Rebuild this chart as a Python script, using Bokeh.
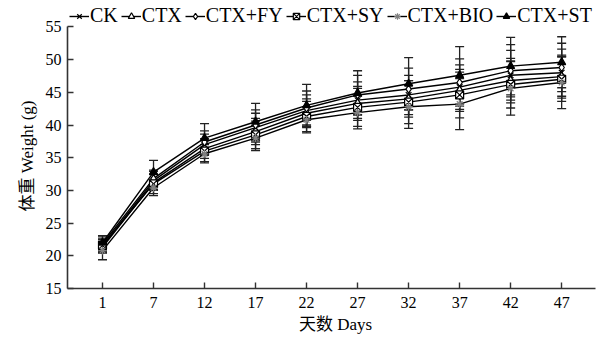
import numpy as np
from bokeh.plotting import figure
from bokeh.models import (ColumnDataSource, Whisker, TeeHead, Legend, LegendItem,
                          Range1d, FixedTicker, Title)
from bokeh.embed import file_html
from bokeh.resources import INLINE

days = ["1", "7", "12", "17", "22", "27", "32", "37", "42", "47"]
series_names = ["CK", "CTX", "CTX+FY", "CTX+SY", "CTX+BIO", "CTX+ST"]

ck_mean = [21.5, 31.5, 37.0, 39.6, 42.2, 43.8, 44.6, 45.8, 47.6, 48.0]
ctx_mean = [21.3, 31.2, 36.4, 39.0, 41.8, 43.3, 44.0, 45.3, 46.8, 47.4]
fy_mean = [21.8, 31.8, 37.4, 40.0, 42.6, 44.6, 45.5, 46.5, 48.3, 48.8]
sy_mean = [21.6, 31.0, 36.0, 38.5, 41.3, 42.7, 43.5, 44.6, 46.2, 47.0]
bio_mean = [20.8, 30.4, 35.6, 38.0, 40.8, 41.9, 42.8, 43.2, 45.6, 46.5]
st_mean = [22.0, 32.8, 38.0, 40.5, 43.0, 44.9, 46.3, 47.6, 49.0, 49.6]

ck_err = [1.0, 1.4, 1.6, 2.2, 2.4, 2.8, 3.0, 3.4, 3.8, 3.6]
ctx_err = [0.9, 1.2, 1.5, 2.0, 2.2, 2.6, 2.8, 3.2, 3.4, 3.3]
fy_err = [1.1, 1.3, 1.7, 2.3, 2.6, 3.0, 3.2, 3.6, 4.0, 3.7]
sy_err = [1.0, 1.5, 1.6, 2.1, 2.3, 2.9, 3.3, 3.5, 3.6, 3.4]
bio_err = [1.4, 1.2, 1.4, 1.9, 2.0, 2.5, 3.3, 3.9, 4.1, 4.0]
st_err = [1.1, 1.8, 2.2, 2.8, 3.2, 3.4, 4.0, 4.4, 4.4, 3.9]

y_ticks = [15, 20, 25, 30, 35, 40, 45, 50, 55]

means = [ck_mean, ctx_mean, fy_mean, sy_mean, bio_mean, st_mean]
errs = [ck_err, ctx_err, fy_err, sy_err, bio_err, st_err]
markers = ["x", "triangle", "diamond", "square_x", "asterisk", "triangle"]
fills = ["black", "white", "white", "white", "gray", "black"]
mcolors = ["black", "black", "black", "black", "gray", "black"]

FONT = "Liberation Serif, Noto Sans CJK SC"

# frame extends above the axis top (55) to hold the legend; axis lines are bounded
p = figure(width=605, height=342, output_backend="svg", toolbar_location=None,
           x_range=Range1d(-0.686, 9.82), y_range=Range1d(15, 59.04))
p.min_border_left = 67
p.min_border_right = 2
p.min_border_top = 0
p.min_border_bottom = 54
p.outline_line_color = None
p.xgrid.visible = False
p.ygrid.visible = False

x = np.arange(len(days))
items = []
for name, m, e, mk, fc, mc in zip(series_names, means, errs, markers, fills, mcolors):
    m = np.array(m)
    e = np.array(e)
    src = ColumnDataSource(dict(x=x, y=m, upper=m + e, lower=m - e))
    w = Whisker(source=src, base="x", upper="upper", lower="lower",
                line_color="#222222", line_width=1.3,
                upper_head=TeeHead(size=9, line_color="#222222", line_width=1.3),
                lower_head=TeeHead(size=9, line_color="#222222", line_width=1.3))
    p.add_layout(w)
    ln = p.line("x", "y", source=src, line_color="black", line_width=1.4)
    sc = p.scatter("x", "y", source=src, marker=mk, size=8,
                   fill_color=fc, line_color=mc, line_width=1.2)
    items.append(LegendItem(label=name, renderers=[ln, sc]))

legend = Legend(items=items, orientation="horizontal", location=(2, 261),
                label_text_font=FONT, label_text_font_size="20px",
                label_text_color="black", glyph_width=20, glyph_height=16,
                label_standoff=1, spacing=3, padding=0, margin=0,
                border_line_color=None, background_fill_alpha=0)
p.add_layout(legend, "center")

p.xaxis.ticker = FixedTicker(ticks=list(x))
p.xaxis.major_label_overrides = {int(i): d for i, d in zip(x, days)}
p.xaxis.bounds = (-0.686, 9.67)
p.yaxis.ticker = FixedTicker(ticks=y_ticks)
p.yaxis.bounds = (y_ticks[0], y_ticks[-1])

for ax in (p.xaxis, p.yaxis):
    ax.axis_line_color = "#333333"
    ax.axis_line_width = 1.6
    ax.major_tick_line_color = "#333333"
    ax.major_tick_line_width = 1.4
    ax.major_tick_in = 6
    ax.major_tick_out = 0
    ax.minor_tick_line_color = None
    ax.major_label_text_font = FONT
    ax.major_label_text_font_size = "16px"
    ax.major_label_text_color = "black"
    ax.axis_label_text_font = FONT
    ax.axis_label_text_font_size = "17px"
    ax.axis_label_text_font_style = "normal"
    ax.axis_label_text_color = "black"

p.xaxis.axis_label = "天数 Days"
p.xaxis.major_label_standoff = 8
p.yaxis.major_label_standoff = 6
p.xaxis.axis_label_standoff = 4

# y-axis title, positioned along the axis like the reference
ytitle = Title(text="体重 Weight (g)", align="left", offset=77,
               text_font=FONT, text_font_size="17px", text_font_style="normal",
               text_color="black", standoff=12)
p.add_layout(ytitle, "left")

open("out.html", "w").write(file_html(p, INLINE))
